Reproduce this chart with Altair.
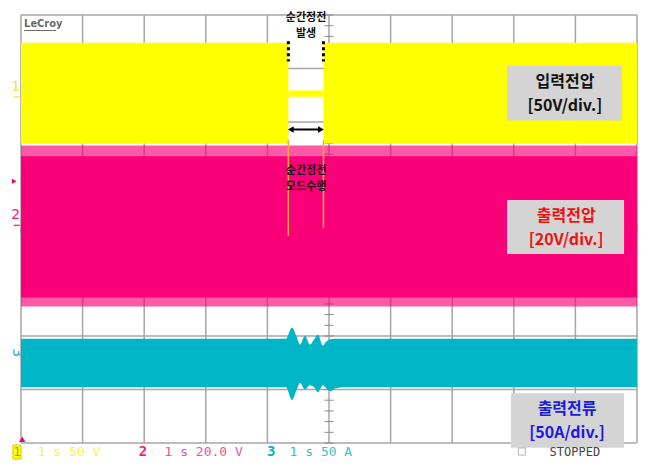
import altair as alt
import pandas as pd

# ---------------- data (time in divisions of 1 s, amplitude in screen divisions) ----------------
grid_x = [0, 1, 2, 3, 4, 5, 6, 7, 8, 9, 10]
grid_y = [-4, -3, -2, -1, 0, 1, 2, 3, 4]
minor_y = [round(-4 + 0.2 * i, 2) for i in range(41)]
minor_x = [round(0.2 * i, 2) for i in range(51)]

# Channel 1: input voltage envelope (segments: before outage, outage, after)
ch1_x1 = [0.00, 4.34, 4.91]
ch1_x2 = [4.34, 4.91, 10.00]
ch1_hi = [3.48, 2.59, 3.48]
ch1_lo = [1.60, 2.47, 1.60]

# Channel 2: output voltage envelope (core and peak fringe)
ch2_x1 = [0.0]
ch2_x2 = [10.0]
ch2_core_hi = [1.36]
ch2_core_lo = [-1.28]
ch2_peak_hi = [1.56]
ch2_peak_lo = [-1.45]

# Channel 3: output current envelope
ch3_x = [0.00, 4.30, 4.40, 4.47, 4.53, 4.61, 4.69, 4.76, 4.82, 4.90, 4.96, 5.02, 5.10, 5.26, 10.00]
ch3_hi = [-2.05, -2.05, -1.84, -2.00, -2.16, -1.99, -2.16, -2.06, -1.97, -2.18, -2.10, -2.06, -2.05, -2.05, -2.05]
ch3_lo = [-2.96, -2.96, -3.20, -3.02, -2.88, -3.00, -2.92, -2.96, -3.05, -2.92, -2.98, -3.03, -2.98, -2.96, -2.96]

# outage event markers
event_x = [4.34, 4.91]
cursor_end = [-0.13, 0.02]
dotted_top = [3.51, 3.51]
dotted_bot = [3.13, 3.13]
arrow_y = 1.86
arrow_x = [4.38, 4.87]

# label boxes
box_x1 = [7.89, 7.89, 7.955]
box_x2 = [9.756, 9.79, 9.79]
box_hi = [3.05, 0.54, -3.07]
box_lo = [2.03, -0.465, -4.09]
box_text_x = [8.83, 8.83, 8.85, 8.85, 8.865, 8.865]
box_text_y = [2.74, 2.29, 0.25, -0.20, -3.37, -3.82]
box_text = ["입력전압", "[50V/div.]", "출력전압", "[20V/div.]", "출력전류", "[50A/div.]"]
box_text_c = ["#111111", "#111111", "#ee1111", "#ee1111", "#1a1ae0", "#1a1ae0"]

note_x = [4.627, 4.627, 4.627, 4.627]
note_y = [3.95, 3.645, 1.079, 0.781]
note_text = ["순간정전", "발생", "순간정전", "모드수행"]

YELLOW = "#ffff00"
PINK = "#fa0078"
TEAL = "#00b6c6"
GRID = "#a6a6a6"

xs = alt.Scale(domain=[0, 10], nice=False, zero=False)
ys = alt.Scale(domain=[-4, 4], nice=False, zero=False)


def X(f="x"):
    return alt.X(f"{f}:Q", scale=xs, axis=None)


def Y(f="y"):
    return alt.Y(f"{f}:Q", scale=ys, axis=None)


def D(**cols):
    return pd.DataFrame(cols)


layers = []

# grid
layers.append(alt.Chart(D(x=grid_x, y=[-4] * 11, y2=[4] * 11)).mark_rule(color=GRID, strokeWidth=1.5)
              .encode(x=X(), y=Y(), y2="y2:Q"))
layers.append(alt.Chart(D(y=grid_y, x=[0] * 9, x2=[10] * 9)).mark_rule(color=GRID, strokeWidth=1.5)
              .encode(y=Y(), x=X(), x2="x2:Q"))
# minor ticks on centre axes
layers.append(alt.Chart(D(y=minor_y, x=[4.927] * len(minor_y), x2=[5.073] * len(minor_y)))
              .mark_rule(color="#8a8a8a", strokeWidth=1).encode(y=Y(), x=X(), x2="x2:Q"))
layers.append(alt.Chart(D(x=minor_x, y=[-0.085] * len(minor_x), y2=[0.085] * len(minor_x)))
              .mark_rule(color="#8a8a8a", strokeWidth=1).encode(x=X(), y=Y(), y2="y2:Q"))

# channel 1
layers.append(alt.Chart(D(x=ch1_x1, x2=ch1_x2, y=ch1_hi, y2=ch1_lo)).mark_rect(color=YELLOW)
              .encode(x=X(), x2="x2:Q", y=Y(), y2="y2:Q"))
# channel 2 fringe + core
layers.append(alt.Chart(D(x=ch2_x1, x2=ch2_x2, y=ch2_peak_hi, y2=ch2_peak_lo)).mark_rect(color=PINK, opacity=0.65)
              .encode(x=X(), x2="x2:Q", y=Y(), y2="y2:Q"))
layers.append(alt.Chart(D(x=ch2_x1, x2=ch2_x2, y=ch2_core_hi, y2=ch2_core_lo)).mark_rect(color=PINK)
              .encode(x=X(), x2="x2:Q", y=Y(), y2="y2:Q"))
# channel 3
layers.append(alt.Chart(D(x=ch3_x, y=ch3_hi, y2=ch3_lo)).mark_area(color=TEAL, interpolate="monotone")
              .encode(x=X(), y=Y(), y2="y2:Q"))

# outage markers
layers.append(alt.Chart(D(x=event_x, y=[1.66, 1.66], y2=cursor_end)).mark_rule(color="#f5a83c", strokeWidth=1.6)
              .encode(x=X(), y=Y(), y2="y2:Q"))
layers.append(alt.Chart(D(x=event_x, y=[3.51, 3.51], y2=[3.48, 3.48])).mark_rule(color="#f0e020", strokeWidth=1)
              .encode(x=X(), y=Y(), y2="y2:Q"))
layers.append(alt.Chart(D(x=event_x, y=dotted_top, y2=dotted_bot))
              .mark_rule(color="#000000", strokeWidth=3, strokeDash=[3, 3]).encode(x=X(), y=Y(), y2="y2:Q"))
layers.append(alt.Chart(D(x=[arrow_x[0]], x2=[arrow_x[1]], y=[arrow_y])).mark_rule(color="#000000", strokeWidth=2)
              .encode(x=X(), x2="x2:Q", y=Y()))
layers.append(alt.Chart(D(x=arrow_x, y=[arrow_y, arrow_y], s=["triangle-left", "triangle-right"]))
              .mark_point(filled=True, color="#000000", size=45, opacity=1)
              .encode(x=X(), y=Y(), shape=alt.Shape("s:N", scale=None)))

# label boxes
layers.append(alt.Chart(D(x=box_x1, x2=box_x2, y=box_hi, y2=box_lo)).mark_rect(color="#d4d4d4")
              .encode(x=X(), x2="x2:Q", y=Y(), y2="y2:Q"))
layers.append(alt.Chart(D(x=box_text_x, y=box_text_y, t=box_text, c=box_text_c))
              .mark_text(font="Noto Sans CJK KR", fontSize=16, fontWeight="bold")
              .encode(x=X(), y=Y(), text="t:N", color=alt.Color("c:N", scale=None)))
layers.append(alt.Chart(D(x=note_x, y=note_y, t=note_text))
              .mark_text(font="Noto Sans CJK KR", fontSize=11, fontWeight="bold", color="#111111")
              .encode(x=X(), y=Y(), text="t:N"))

# scope decorations
layers.append(alt.Chart(D(x=[0.05], y=[3.83], t=["LeCroy"]))
              .mark_text(font="DejaVu Sans Condensed", fontSize=11, fontWeight="bold", color="#6a6a6a", align="left")
              .encode(x=X(), y=Y(), text="t:N"))
layers.append(alt.Chart(D(x=[0.05], x2=[0.57], y=[3.71])).mark_rule(color="#6a6a6a", strokeWidth=1)
              .encode(x=X(), x2="x2:Q", y=Y()))
layers.append(alt.Chart(D(x=[-0.085, -0.085], y=[2.66, 0.26], t=["1", "2"], c=["#f0e040", "#f0207f"]))
              .mark_text(font="DejaVu Sans", fontSize=14)
              .encode(x=X(), y=Y(), text="t:N", color=alt.Color("c:N", scale=None)))
layers.append(alt.Chart(D(x=[-0.12, -0.12], x2=[-0.02, -0.02], y=[2.47, 0.07], c=["#f0e040", "#f0207f"]))
              .mark_rule(strokeWidth=1.2).encode(x=X(), x2="x2:Q", y=Y(), color=alt.Color("c:N", scale=None)))
layers.append(alt.Chart(D(x=[-0.07], y=[-2.31], t=["3"]))
              .mark_text(font="DejaVu Sans", fontSize=14, angle=90, color="#20aec0")
              .encode(x=X(), y=Y(), text="t:N"))
layers.append(alt.Chart(D(x=[-0.11], y=[0.893])).mark_point(shape="triangle-right", filled=True, color=PINK, size=30, opacity=1)
              .encode(x=X(), y=Y()))
layers.append(alt.Chart(D(x=[0.02], y=[-3.93])).mark_point(shape="triangle-up", filled=True, color=PINK, size=40, opacity=1)
              .encode(x=X(), y=Y()))

# status line
layers.append(alt.Chart(D(x=[-0.13], x2=[0.0], y=[-4.04], y2=[-4.30])).mark_rect(color=YELLOW, stroke="#d8c800", strokeWidth=1)
              .encode(x=X(), x2="x2:Q", y=Y(), y2="y2:Q"))
layers.append(alt.Chart(D(x=[-0.065], y=[-4.17], t=["1"])).mark_text(font="DejaVu Sans Mono", fontSize=12, color="#b09a00")
              .encode(x=X(), y=Y(), text="t:N"))
layers.append(alt.Chart(D(x=[0.27, 2.33, 4.36], y=[-4.17] * 3, t=["1 s 50 V", "1 s 20.0 V", "1 s 50 A"],
                          c=["#f2f25a", "#f0509a", "#40bccc"]))
              .mark_text(font="DejaVu Sans Mono", fontSize=13, align="left")
              .encode(x=X(), y=Y(), text="t:N", color=alt.Color("c:N", scale=None)))
layers.append(alt.Chart(D(x=[1.98, 4.06], y=[-4.17] * 2, t=["2", "3"], c=["#f0207f", "#10aec0"]))
              .mark_text(font="DejaVu Sans Mono", fontSize=14, fontWeight="bold")
              .encode(x=X(), y=Y(), text="t:N", color=alt.Color("c:N", scale=None)))
layers.append(alt.Chart(D(x=[8.13], y=[-4.16])).mark_point(shape="square", filled=False, color="#9a9a9a", size=50, strokeWidth=1)
              .encode(x=X(), y=Y()))
layers.append(alt.Chart(D(x=[8.58], y=[-4.17], t=["STOPPED"]))
              .mark_text(font="DejaVu Sans Mono", fontSize=12, align="left", color="#444444")
              .encode(x=X(), y=Y(), text="t:N"))

chart = alt.layer(*layers).properties(
    width=616, height=428,
    padding={"left": 13, "top": 7, "right": 4, "bottom": 18},
    autosize=alt.AutoSizeParams(type="none"),
    background="#ffffff",
).configure_view(stroke=None)

chart.save("out.html", embed_options={"renderer": "svg", "actions": False})
